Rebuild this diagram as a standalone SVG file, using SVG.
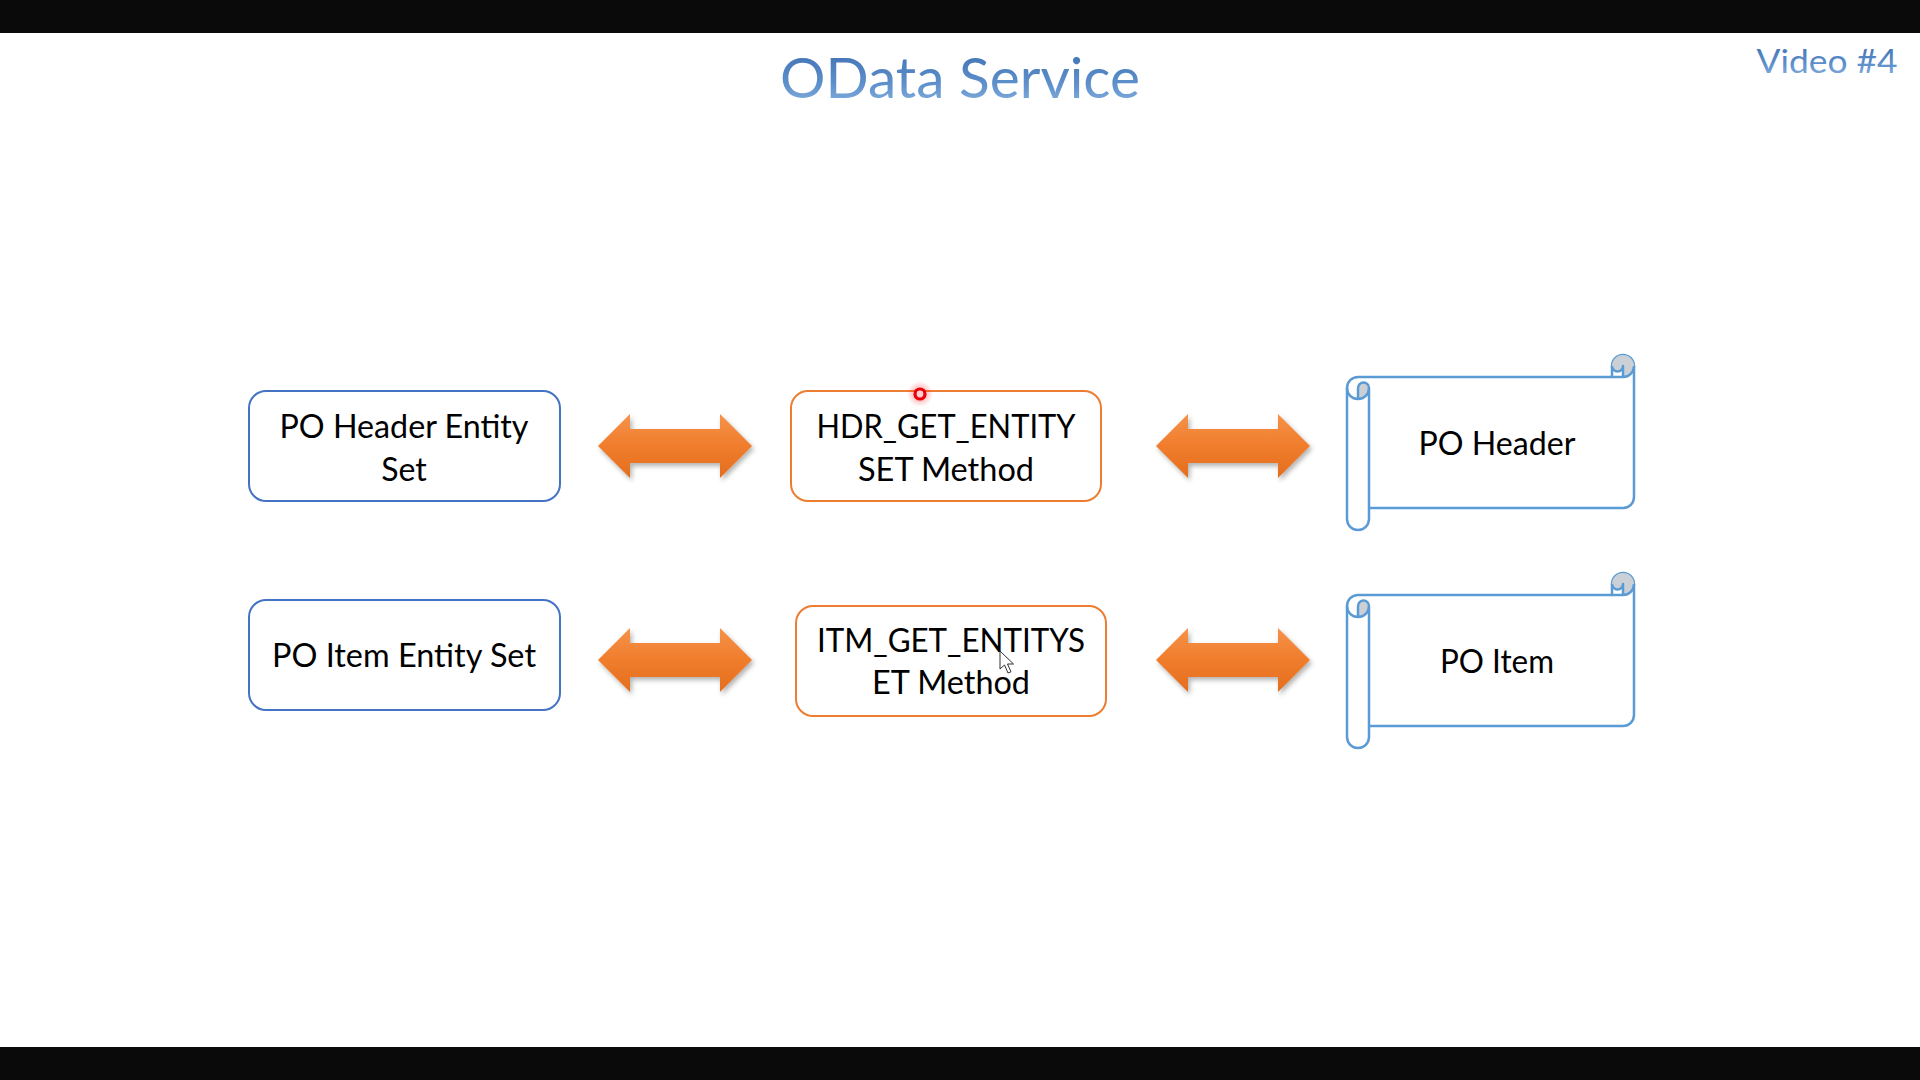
<svg xmlns="http://www.w3.org/2000/svg" xmlns:xlink="http://www.w3.org/1999/xlink" width="1920" height="1080" viewBox="0 0 1920 1080">
  <defs>
    <style>
      .lbl { font-family: Lato, "Open Sans", "Liberation Sans", sans-serif; font-size: 32px; fill: #000; text-anchor: middle; }
      .ttl { font-family: Lato, "Open Sans", "Liberation Sans", sans-serif; text-anchor: middle; fill: url(#titleGrad); }
      .boxBlue { fill: #fff; stroke: #4472C4; stroke-width: 2; }
      .boxOrange { fill: #fff; stroke: #ED7D31; stroke-width: 2; }
      .scroll { fill: #fff; stroke: #5B9BD5; stroke-width: 2.5; stroke-linejoin: round; }
      .scrollLine { fill: none; stroke: #5B9BD5; stroke-width: 2.5; stroke-linejoin: round; }
      .scrollDark { fill: #CBCFD6; stroke: none; }
      .arrow { fill: url(#arrowGrad); filter: url(#arrowShadow); }
    </style>
    <linearGradient id="titleGrad" x1="0" y1="0" x2="0" y2="1">
      <stop offset="0" stop-color="#3A6CAE"/>
      <stop offset="0.6" stop-color="#5D8FCB"/>
      <stop offset="1" stop-color="#8DB6E2"/>
    </linearGradient>
    <linearGradient id="arrowGrad" x1="0" y1="0" x2="0" y2="1">
      <stop offset="0" stop-color="#F6924A"/>
      <stop offset="0.5" stop-color="#F07D2C"/>
      <stop offset="1" stop-color="#E36E1D"/>
    </linearGradient>
    <filter id="arrowShadow" x="-10%" y="-20%" width="125%" height="150%">
      <feDropShadow dx="2" dy="3" stdDeviation="2.5" flood-color="#000" flood-opacity="0.3"/>
    </filter>
    <radialGradient id="dotGlow">
      <stop offset="0" stop-color="#FF0000" stop-opacity="0.45"/>
      <stop offset="1" stop-color="#FF0000" stop-opacity="0"/>
    </radialGradient>
    <path id="dblArrow" d="M-77,0 L-45,-32 L-45,-17 L45,-17 L45,-32 L77,0 L45,32 L45,17 L-45,17 L-45,32 Z"/>
    <g id="scrollShape">
      <path class="scroll" d="M1347,388 A11,11 0 0 1 1358,377 L1612,377 L1612,366 A11,11 0 0 1 1634,366 L1634,497 A11,11 0 0 1 1623,508 L1369,508 L1369,519 A11,11 0 0 1 1347,519 Z"/>
      <path class="scrollDark" d="M1358,399 A11,11 0 0 0 1369,388 A5.5,5.5 0 0 0 1358,388 Z"/>
      <path class="scrollDark" d="M1623,377 A11,11 0 1 0 1612,366 A5.5,5.5 0 0 0 1623,366 Z"/>
      <path class="scrollLine" d="M1612,377 L1623,377 A11,11 0 0 0 1634,366 M1623,377 L1623,366 A5.5,5.5 0 0 1 1612,366 M1358,399 L1358,388 A5.5,5.5 0 0 1 1369,388 A11,11 0 0 1 1347,388 M1369,388 L1369,508"/>
    </g>
  </defs>

  <rect x="0" y="0" width="1920" height="1080" fill="#fff"/>
  <rect x="0" y="0" width="1920" height="33" fill="#0A0A0A"/>
  <rect x="0" y="1047" width="1920" height="33" fill="#0A0A0A"/>

  <g id="title">
    <text class="ttl" x="960" y="98" font-size="56" textLength="360" lengthAdjust="spacingAndGlyphs">OData Service</text>
    <text class="ttl" x="1827" y="73" font-size="33" textLength="141" lengthAdjust="spacingAndGlyphs">Video #4</text>
  </g>

  <g id="connectors">
    <use xlink:href="#dblArrow" class="arrow" x="675" y="446"/>
    <use xlink:href="#dblArrow" class="arrow" x="1233" y="446"/>
    <use xlink:href="#dblArrow" class="arrow" x="675" y="660"/>
    <use xlink:href="#dblArrow" class="arrow" x="1233" y="660"/>
  </g>

  <g id="node-po-header-entity-set">
    <rect class="boxBlue" x="249" y="391" width="311" height="110" rx="17"/>
    <text class="lbl" x="404" y="438" textLength="249" lengthAdjust="spacingAndGlyphs">PO Header Entity</text>
    <text class="lbl" x="404" y="481">Set</text>
  </g>

  <g id="node-po-item-entity-set">
    <rect class="boxBlue" x="249" y="600" width="311" height="110" rx="17"/>
    <text class="lbl" x="404" y="667" textLength="264" lengthAdjust="spacingAndGlyphs">PO Item Entity Set</text>
  </g>

  <g id="node-hdr-method">
    <rect class="boxOrange" x="791" y="391" width="310" height="110" rx="17"/>
    <text class="lbl" x="946" y="438" textLength="259" lengthAdjust="spacingAndGlyphs">HDR_GET_ENTITY</text>
    <text class="lbl" x="946" y="481" textLength="176" lengthAdjust="spacingAndGlyphs">SET Method</text>
  </g>

  <g id="node-itm-method">
    <rect class="boxOrange" x="796" y="606" width="310" height="110" rx="17"/>
    <text class="lbl" x="951" y="652" textLength="268" lengthAdjust="spacingAndGlyphs">ITM_GET_ENTITYS</text>
    <text class="lbl" x="951" y="694" textLength="158" lengthAdjust="spacingAndGlyphs">ET Method</text>
  </g>

  <g id="node-po-header">
    <use xlink:href="#scrollShape"/>
    <text class="lbl" x="1497" y="455" textLength="157" lengthAdjust="spacingAndGlyphs">PO Header</text>
  </g>

  <g id="node-po-item">
    <use xlink:href="#scrollShape" transform="translate(0,218)"/>
    <text class="lbl" x="1497" y="673" textLength="114" lengthAdjust="spacingAndGlyphs">PO Item</text>
  </g>

  <g id="pointer-marks">
    <circle cx="920" cy="394" r="13" fill="url(#dotGlow)"/>
    <circle cx="920" cy="394" r="5" fill="#FFD0D0" stroke="#E8000B" stroke-width="3.2"/>
    <path d="M1000,651 L1000,669 L1004.5,665 L1008,673 L1011,671.8 L1007.5,664 L1013.5,664 Z" fill="#fff" stroke="#333" stroke-width="1" stroke-linejoin="round"/>
  </g>
</svg>
